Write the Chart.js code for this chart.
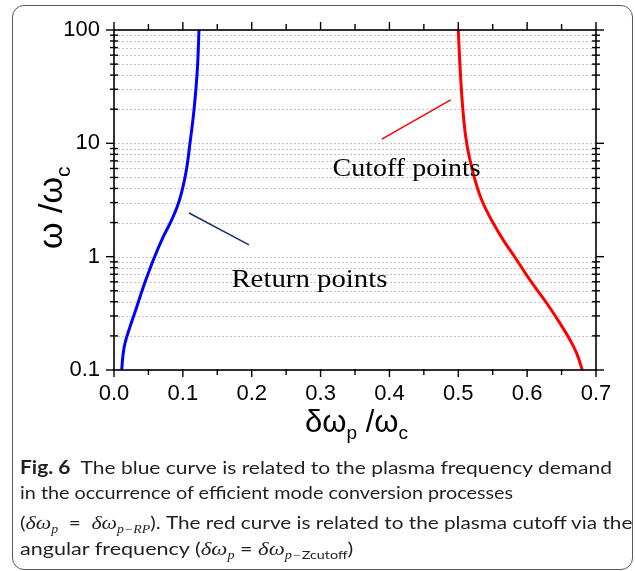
<!DOCTYPE html>
<html><head><meta charset="utf-8">
<script src="https://cdn.jsdelivr.net/npm/chart.js@4/dist/chart.umd.min.js"></script>
<style>
html,body{margin:0;padding:0;background:#fff;width:635px;height:571px;overflow:hidden}
#frame{position:absolute;left:12px;top:5px;width:621px;height:565px;border:1.5px solid #5a5a5a;border-radius:12px;box-sizing:border-box}
canvas{position:absolute;left:0;top:0}
.cap{position:absolute;left:20px;font-family:Lato,"Noto Sans",sans-serif;font-size:18px;color:#231f20;white-space:nowrap;transform-origin:0 0;line-height:22px}
.cap i{font-family:"Liberation Serif",serif;font-size:19px}
.cap sub{font-size:12px;vertical-align:-4px;line-height:0}
</style></head>
<body>
<div id="frame"></div>
<canvas id="c" width="635" height="571"></canvas>
<div class="cap" id="l1" style="top:456px"><b>Fig. 6</b>&nbsp; The blue curve is related to the plasma frequency demand</div>
<div class="cap" id="l2" style="top:481px">in the occurrence of efficient mode conversion processes</div>
<div class="cap" id="l3" style="top:511px">(<i>δω<sub>p</sub></i> &nbsp;= &nbsp;<i>δω<sub>p−RP</sub></i>). The red curve is related to the plasma cutoff via the</div>
<div class="cap" id="l4" style="top:537px">angular frequency (<i>δω<sub>p</sub></i> = <i>δω<sub>p−</sub></i><sub>Zcutoff</sub>)</div>
<script>
// ---- data ----
const blueX = [0.0112, 0.0131, 0.0160, 0.0232, 0.0330, 0.0426, 0.0571, 0.0716, 0.0838, 0.0951, 0.1046, 0.1104, 0.1162, 0.1210, 0.1234];
const blueY = [0.1, 0.136, 0.173, 0.240, 0.360, 0.541, 0.935, 1.50, 2.11, 3.16, 5.59, 10.1, 19.7, 44.4, 100];
const redX = [0.5000, 0.5025, 0.5063, 0.5121, 0.5217, 0.5340, 0.5509, 0.5654, 0.5849, 0.6042, 0.6285, 0.6478, 0.6623, 0.6720, 0.6801];
const redY = [100, 48.1, 21.1, 10.1, 5.45, 3.16, 1.97, 1.40, 0.935, 0.62, 0.388, 0.258, 0.184, 0.140, 0.1];
const cutoffLineX = [0.389, 0.489];
const cutoffLineY = [10.9, 24.2];
const returnLineX = [0.109, 0.196];
const returnLineY = [2.43, 1.27];
const xTickValues = [0, 0.1, 0.2, 0.3, 0.4, 0.5, 0.6, 0.7];
const xMinorValues = [0.05, 0.15, 0.25, 0.35, 0.45, 0.55, 0.65];
const yDecades = [0.1, 1, 10, 100];
const yDecadeLabels = ["0.1", "1", "10", "100"];
const yMinorValues = [0.2,0.3,0.4,0.5,0.6,0.7,0.8,0.9,2,3,4,5,6,7,8,9,20,30,40,50,60,70,80,90];
const annotations = [
  {text: "Cutoff points", x: 0.3175, y: 5.2, width: 148},
  {text: "Return points", x: 0.1705, y: 0.54, width: 156}
];

const pts = (xs, ys) => xs.map((x, i) => ({x, y: ys[i]}));

const overlay = {
  id: 'overlay',
  beforeDatasetsDraw(chart) {
    const {ctx, chartArea: a, scales: {x, y}} = chart;
    ctx.save();
    ctx.strokeStyle = '#c4c4c4';
    ctx.lineWidth = 1;
    ctx.setLineDash([2, 2]);
    [...yMinorValues, ...yDecades].forEach(v => {
      const py = Math.round(y.getPixelForValue(v)) + 0.5;
      ctx.beginPath(); ctx.moveTo(a.left, py); ctx.lineTo(a.right, py); ctx.stroke();
    });
    ctx.restore();
  },
  afterDatasetsDraw(chart) {
    const {ctx, chartArea: a, scales: {x, y}} = chart;
    ctx.save();
    ctx.strokeStyle = '#000';
    ctx.lineWidth = 1.6;
    ctx.strokeRect(a.left, a.top, a.right - a.left, a.bottom - a.top);
    ctx.lineWidth = 1.4;
    const line = (x1, y1, x2, y2) => { ctx.beginPath(); ctx.moveTo(x1, y1); ctx.lineTo(x2, y2); ctx.stroke(); };
    yDecades.forEach(v => {
      const py = y.getPixelForValue(v);
      line(a.left - 8, py, a.left, py);
      line(a.right, py, a.right + 8, py);
    });
    yMinorValues.forEach(v => {
      const py = y.getPixelForValue(v);
      line(a.left - 4, py, a.left + 4, py);
      line(a.right - 4, py, a.right + 4, py);
    });
    xTickValues.forEach(v => {
      const px = x.getPixelForValue(v);
      line(px, a.top - 8, px, a.top);
      line(px, a.bottom - 1, px, a.bottom + 7);
    });
    xMinorValues.forEach(v => {
      const px = x.getPixelForValue(v);
      line(px, a.top - 6, px, a.top);
      line(px, a.bottom - 1, px, a.bottom + 5);
    });
    // annotation text
    ctx.fillStyle = '#000';
    ctx.font = '25px "Liberation Serif", serif';
    ctx.textBaseline = 'alphabetic';
    annotations.forEach(an => {
      const px = x.getPixelForValue(an.x), py = y.getPixelForValue(an.y);
      const w = ctx.measureText(an.text).width;
      ctx.save(); ctx.translate(px, py); ctx.scale(an.width / w, 1);
      ctx.fillText(an.text, 0, 0); ctx.restore();
    });
    // axis titles
    const seq = (parts, x0, y0) => {
      let cx = x0;
      parts.forEach(([t, size, dy]) => {
        ctx.font = size + 'px "Liberation Sans", Arial, sans-serif';
        ctx.fillText(t, cx, y0 + dy);
        cx += ctx.measureText(t).width;
      });
    };
    seq([['δω', 31, 0], ['p', 19, 7], [' /ω', 31, 0], ['c', 19, 7]], 305, 432);
    ctx.save();
    ctx.translate(62, 249);
    ctx.rotate(-Math.PI / 2);
    seq([['ω /ω', 34, 0], ['c', 21, 8]], 0, 0);
    ctx.restore();
    ctx.restore();
  }
};

const curve = (xs, ys, color) => ({data: pts(xs, ys), borderColor: color, borderWidth: 3, showLine: true,
  pointRadius: 0, tension: 0.4});

new Chart(document.getElementById('c'), {
  type: 'scatter',
  data: {
    datasets: [
      curve(blueX, blueY, '#0000ff'),
      curve(redX, redY, '#ff0000'),
      {data: pts(cutoffLineX, cutoffLineY), borderColor: '#ff0000', borderWidth: 1.5, showLine: true, pointRadius: 0},
      {data: pts(returnLineX, returnLineY), borderColor: '#1c2f6e', borderWidth: 1.5, showLine: true, pointRadius: 0}
    ]
  },
  options: {
    responsive: false,
    animation: false,
    devicePixelRatio: 1,
    layout: {padding: {top: 30, right: 39, left: 0, bottom: 0}},
    plugins: {legend: {display: false}, tooltip: {enabled: false}},
    scales: {
      x: {
        type: 'linear', min: 0, max: 0.7,
        afterFit: s => { s.height = 201; },
        afterBuildTicks: s => { s.ticks = xTickValues.map(v => ({value: v})); },
        grid: {display: false, drawTicks: false},
        border: {display: false},
        ticks: {autoSkip: false, maxRotation: 0, padding: 11, color: '#000',
          font: {family: '"Liberation Sans", Arial, sans-serif', size: 22},
          callback: v => v.toFixed(1)}
      },
      y: {
        type: 'logarithmic', min: 0.1, max: 100,
        afterFit: s => { s.width = 114; },
        afterBuildTicks: s => { s.ticks = yDecades.map(v => ({value: v})); },
        grid: {display: false, drawTicks: false},
        border: {display: false},
        ticks: {autoSkip: false, padding: 14, color: '#000',
          font: {family: '"Liberation Sans", Arial, sans-serif', size: 22},
          callback: v => { const i = yDecades.findIndex(d => Math.abs(d - v) < 1e-9 * d); return i >= 0 ? yDecadeLabels[i] : ''; }}
      }
    }
  },
  plugins: [overlay]
});

// fit caption lines to the widths seen in the reference
const capWidths = {l1: 592, l2: 493, l3: 612, l4: 333};
Object.keys(capWidths).forEach(id => {
  const el = document.getElementById(id);
  el.style.transform = 'scaleX(' + (capWidths[id] / el.offsetWidth) + ')';
});
</script>
</body></html>
